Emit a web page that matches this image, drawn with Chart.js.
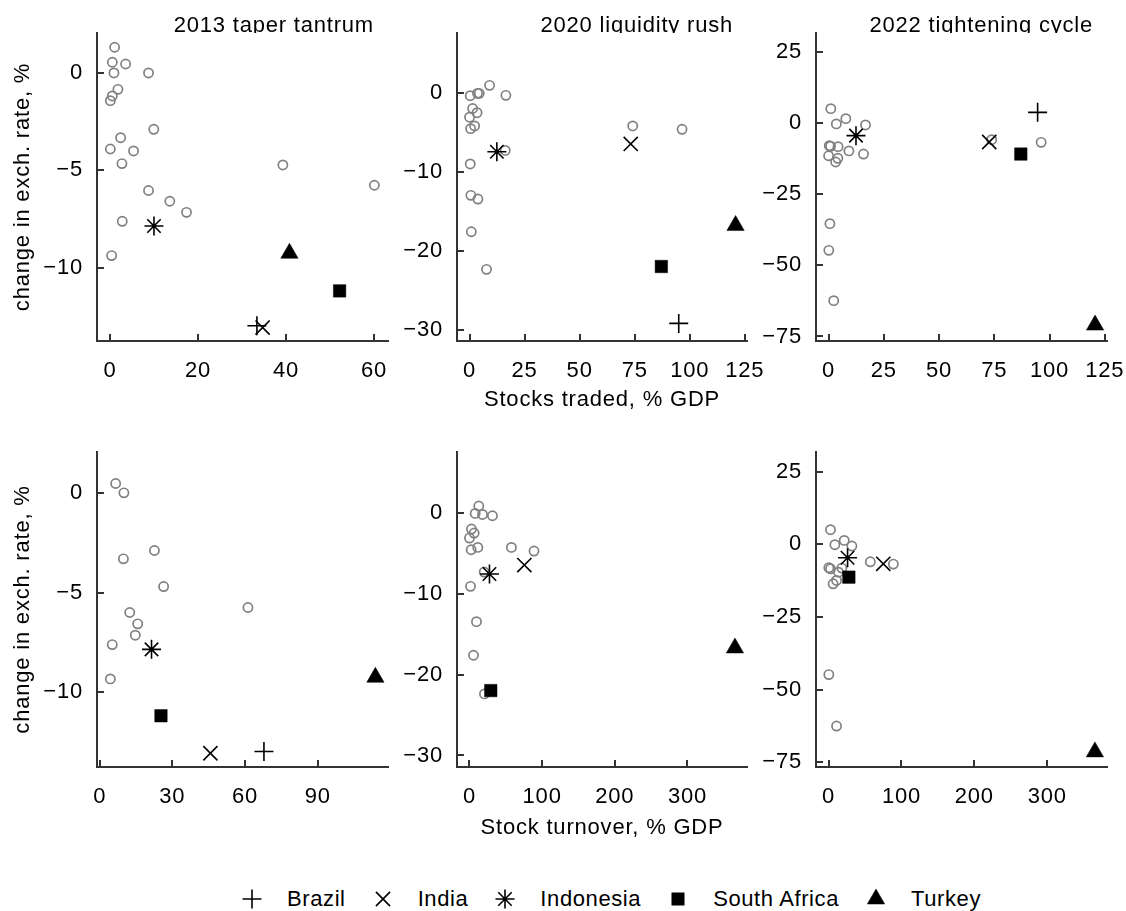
<!DOCTYPE html>
<html>
<head>
<meta charset="utf-8">
<script src="https://cdn.jsdelivr.net/npm/chart.js@4.4.1/dist/chart.umd.min.js"></script>
<style>
html,body{margin:0;padding:0;background:#fff;}
body{width:1126px;height:911px;position:relative;overflow:hidden;font-family:"Liberation Sans",Arial,Helvetica,sans-serif;}
canvas.panel{position:absolute;}
#legend{position:absolute;left:0;top:884px;width:1126px;height:30px;box-sizing:border-box;padding-left:228px;display:flex;justify-content:flex-start;align-items:center;font-size:22px;letter-spacing:0.6px;color:#000;}
.item{display:flex;align-items:center;margin:0 13px;white-space:nowrap;}
.item canvas{margin-right:24px;display:block;}
</style>
</head>
<body>
<div id="legend"></div>
<script>
// ---------- text ----------
const countries = ['Brazil', 'India', 'Indonesia', 'South Africa', 'Turkey'];
const episodes = ['2013 taper tantrum', '2020 liquidity rush', '2022 tightening cycle'];
const xAxisTitles = ['Stocks traded, % GDP', 'Stock turnover, % GDP'];
const yAxisTitle = 'change in exch. rate, %';

// ---------- data: highlighted countries (order as in `countries`) ----------
// top row: stocks traded, % GDP
const traded2013X = [33.4, 34.7, 10.0, 52.2, 40.8];
const traded2013Y = [-12.97, -13.06, -7.85, -11.18, -9.25];
const traded2020X = [95.0, 73.2, 12.4, 87.1, 120.8];
const traded2020Y = [-29.2, -6.49, -7.47, -22.0, -16.8];
const traded2022X = [94.6, 72.7, 12.4, 87.0, 120.6];
const traded2022Y = [3.87, -6.56, -4.33, -10.8, -71.0];
// bottom row: stock turnover, % GDP
const turnover2013X = [67.8, 45.7, 21.4, 25.3, 113.8];
const turnover2013Y = [-12.97, -13.06, -7.85, -11.18, -9.25];
const turnover2020X = [null, 75.5, 27.5, 29.3, 365.4];
const turnover2020Y = [null, -6.43, -7.54, -21.97, -16.7];
const turnover2022X = [null, 75.1, 26.1, 27.9, 365.4];
const turnover2022Y = [null, -6.67, -4.6, -11.27, -71.4];

// ---------- data: other emerging markets (grey circles) ----------
const othersTraded2013X = [1.06, 0.53, 3.55, 0.9, 8.76, 1.81, 0.53, 0.08, 9.96, 2.42, 0.08, 5.36, 2.72, 39.3, 60.1, 8.76, 13.6, 17.4, 2.79, 0.38];
const othersTraded2013Y = [1.32, 0.55, 0.46, 0, 0, -0.84, -1.18, -1.42, -2.89, -3.32, -3.9, -4.0, -4.65, -4.72, -5.76, -6.03, -6.58, -7.15, -7.61, -9.37];
const othersTraded2020X = [9.1, 0.3, 3.6, 4.4, 16.5, 1.4, 3.4, 0, 2.3, 0.5, 74.1, 96.5, 16.2, 0.3, 0.6, 3.8, 0.8, 7.7];
const othersTraded2020Y = [0.93, -0.38, -0.08, -0.08, -0.33, -2.0, -2.53, -3.1, -4.2, -4.55, -4.2, -4.63, -7.3, -9.02, -12.99, -13.46, -17.6, -22.36];
const othersTraded2022X = [1.0, 7.8, 3.5, 16.7, 0.3, 0.9, 4.3, 9.2, 15.8, 0, 4.2, 3.2, 73.8, 96.2, 0.6, 0.1, 2.3];
const othersTraded2022Y = [5.18, 1.65, -0.2, -0.56, -7.85, -8.1, -8.2, -9.7, -10.8, -11.4, -12.3, -13.6, -5.74, -6.69, -35.3, -44.7, -62.4];
const othersTurnover2013X = [6.6, 10.0, 22.6, 9.8, 26.4, 61.2, 12.4, 15.7, 14.7, 5.2, 4.4];
const othersTurnover2013Y = [0.47, 0, -2.89, -3.31, -4.7, -5.75, -6.0, -6.57, -7.14, -7.61, -9.33];
const othersTurnover2020X = [12.8, 7.8, 17.9, 31.6, 2.7, 6.4, 0, 11.4, 2.3, 57.7, 88.8, 20.2, 1.4, 9.6, 5.5, 20.6];
const othersTurnover2020Y = [0.87, -0.04, -0.17, -0.33, -1.98, -2.47, -3.09, -4.25, -4.54, -4.25, -4.7, -7.3, -9.07, -13.44, -17.6, -22.38];
const othersTurnover2022X = [2.7, 21.5, 8.7, 32, 57.3, 88.9, 0.4, 2.7, 18.3, 13.7, 11, 6.3, 0.4, 11];
const othersTurnover2022Y = [5.06, 1.38, -0.1, -0.57, -5.98, -6.78, -8.0, -8.4, -8.16, -9.54, -12.4, -13.56, -44.8, -62.5];

// ---------- tick labels ----------
const xTicksTraded2013 = [0, 20, 40, 60];
const xTicksTraded = [0, 25, 50, 75, 100, 125];
const xTicksTurnover2013 = [0, 30, 60, 90];
const xTicksTurnover = [0, 100, 200, 300];
const yTicks2013 = [0, -5, -10];
const yTicks2020 = [0, -10, -20, -30];
const yTicks2022 = [25, 0, -25, -50, -75];

// ---------- layout / styling (not data) ----------
const FONT = '"Liberation Sans", Arial, Helvetica, sans-serif';
Chart.defaults.font.family = FONT;
Chart.defaults.font.size = 22;
Chart.defaults.color = '#000';

const markerStyles = [
  {pointStyle: 'cross', radius: 9.5, bw: 1.6},
  {pointStyle: 'crossRot', radius: 10, bw: 1.6},
  {pointStyle: 'star', radius: 9.5, bw: 1.6},
  {pointStyle: 'rect', radius: 8.8, bw: 0.5},
  {pointStyle: 'triangle', radius: 10, bw: 0.5}
];
const AXIS_COLOR = '#333333';
const GREY = '#808080';

const colLeft = [97, 457, 816], colRight = [388, 747, 1107];
const rowTop = [33, 452], rowBottom = [341, 767];
const yWidth = 97, xHeight = 75, padRight = 20;

const panels = [
  {r:0, c:0, fx:traded2013X, fy:traded2013Y, ox:othersTraded2013X, oy:othersTraded2013Y, xt:xTicksTraded2013, yt:yTicks2013, xmin:-2.95, xmax:63.2, ymin:-13.75, ymax:2.05},
  {r:0, c:1, fx:traded2020X, fy:traded2020Y, ox:othersTraded2020X, oy:othersTraded2020Y, xt:xTicksTraded, yt:yTicks2020, xmin:-5.7, xmax:126, ymin:-31.43, ymax:7.56},
  {r:0, c:2, fx:traded2022X, fy:traded2022Y, ox:othersTraded2022X, oy:othersTraded2022Y, xt:xTicksTraded, yt:yTicks2022, xmin:-5.7, xmax:126, ymin:-76.6, ymax:31.8},
  {r:1, c:0, fx:turnover2013X, fy:turnover2013Y, ox:othersTurnover2013X, oy:othersTurnover2013Y, xt:xTicksTurnover2013, yt:yTicks2013, xmin:-1.1, xmax:119, ymin:-13.75, ymax:2.05},
  {r:1, c:1, fx:turnover2020X, fy:turnover2020Y, ox:othersTurnover2020X, oy:othersTurnover2020Y, xt:xTicksTurnover, yt:yTicks2020, xmin:-17.2, xmax:382, ymin:-31.43, ymax:7.56},
  {r:1, c:2, fx:turnover2022X, fy:turnover2022Y, ox:othersTurnover2022X, oy:othersTurnover2022Y, xt:xTicksTurnover, yt:yTicks2022, xmin:-17.2, xmax:382, ymin:-76.6, ymax:31.8}
];

const fmt = v => (v < 0 ? '\u2212' + Math.abs(v) : String(v));

// letter spacing to match the reference's text widths
const spacingPlugin = {
  id: 'spacing',
  beforeDraw(chart) { try { chart.ctx.letterSpacing = '0.8px'; } catch (e) {} }
};
// inward tick marks
const inwardTicks = {
  id: 'inwardTicks',
  beforeDatasetsDraw(chart) {
    const {ctx, chartArea: a, scales: {x, y}} = chart;
    ctx.save();
    ctx.strokeStyle = AXIS_COLOR; ctx.lineWidth = 2; ctx.lineCap = 'butt';
    ctx.beginPath();
    x.ticks.forEach(t => { const p = Math.round(x.getPixelForValue(t.value)); ctx.moveTo(p, a.bottom); ctx.lineTo(p, a.bottom - 7); });
    y.ticks.forEach(t => { const p = Math.round(y.getPixelForValue(t.value)); ctx.moveTo(a.left, p); ctx.lineTo(a.left + 7, p); });
    ctx.stroke();
    ctx.restore();
  }
};
// panel title, clipped at the top of the plotting region
const panelTitle = {
  id: 'panelTitle',
  afterDraw(chart, args, opts) {
    if (!opts || !opts.text) return;
    const {ctx, chartArea: a} = chart;
    ctx.save();
    ctx.beginPath(); ctx.rect(0, 0, chart.width, a.top); ctx.clip();
    ctx.font = '22px ' + FONT;
    ctx.fillStyle = '#000'; ctx.textAlign = 'right'; ctx.textBaseline = 'alphabetic';
    ctx.fillText(opts.text, a.right - 14, a.top - 1);
    ctx.restore();
  }
};
Chart.register(spacingPlugin, inwardTicks, panelTitle);

panels.forEach(p => {
  const cv = document.createElement('canvas');
  cv.className = 'panel';
  const left = colLeft[p.c] - yWidth;
  const top = rowTop[p.r] - 33;
  const w = colRight[p.c] + padRight - left;
  const h = rowBottom[p.r] + xHeight - top;
  cv.width = w; cv.height = h;
  cv.style.left = left + 'px'; cv.style.top = top + 'px';
  cv.style.width = w + 'px'; cv.style.height = h + 'px';
  document.body.appendChild(cv);

  const datasets = [];
  countries.forEach((name, i) => {
    if (p.fx[i] == null) return;
    const m = markerStyles[i];
    datasets.push({
      label: name,
      data: [{x: p.fx[i], y: p.fy[i]}],
      pointStyle: m.pointStyle, pointRadius: m.radius, pointHoverRadius: m.radius,
      borderWidth: m.bw, borderColor: '#000', backgroundColor: '#000',
      order: 0, clip: false
    });
  });
  datasets.push({
    label: 'Other EMs',
    data: p.ox.map((x, i) => ({x, y: p.oy[i]})),
    pointStyle: 'circle', pointRadius: 4.6, pointHoverRadius: 4.6,
    borderWidth: 1.7, borderColor: GREY, backgroundColor: 'rgba(0,0,0,0)',
    order: 1, clip: false
  });

  const xTitleShow = p.c === 1;
  const yTitleShow = p.c === 0;
  new Chart(cv, {
    type: 'scatter',
    data: {datasets},
    options: {
      responsive: false, animation: false, events: [],
      layout: {padding: {top: 33, right: padRight, left: 0, bottom: 0}},
      plugins: {
        legend: {display: false}, tooltip: {enabled: false},
        panelTitle: {text: p.r === 0 ? episodes[p.c] : ''}
      },
      scales: {
        x: {
          type: 'linear', position: 'bottom', min: p.xmin, max: p.xmax,
          afterBuildTicks: s => { s.ticks = p.xt.map(v => ({value: v})); },
          afterFit: s => { s.height = xHeight; s.paddingLeft = 0; s.paddingRight = 0; },
          grid: {display: false, drawTicks: false},
          border: {display: true, color: AXIS_COLOR, width: 2},
          ticks: {padding: 17, callback: fmt, maxRotation: 0, minRotation: 0, autoSkip: false, color: '#000', font: {size: 22}},
          title: {display: xTitleShow, text: xAxisTitles[p.r], color: '#000', font: {size: 22}, padding: {top: 0, bottom: p.r === 0 ? 3 : 1}}
        },
        y: {
          type: 'linear', position: 'left', min: p.ymin, max: p.ymax,
          afterBuildTicks: s => { s.ticks = p.yt.map(v => ({value: v})); },
          afterFit: s => { s.width = yWidth; s.paddingTop = 0; s.paddingBottom = 0; },
          grid: {display: false, drawTicks: false},
          border: {display: true, color: AXIS_COLOR, width: 2},
          ticks: {padding: 14, callback: fmt, autoSkip: false, color: '#000', font: {size: 22}},
          title: {display: yTitleShow, text: yAxisTitle, color: '#000', font: {size: 22}, padding: {top: 10, bottom: 0}}
        }
      }
    }
  });
});

// ---------- legend ----------
const legend = document.getElementById('legend');
countries.forEach((name, i) => {
  const item = document.createElement('div');
  item.className = 'item';
  const mc = document.createElement('canvas');
  mc.width = 22; mc.height = 22;
  mc.style.width = '22px'; mc.style.height = '22px';
  const ctx = mc.getContext('2d');
  const m = markerStyles[i];
  ctx.fillStyle = '#000'; ctx.strokeStyle = '#000'; ctx.lineWidth = m.bw;
  if (Chart.helpers && Chart.helpers.drawPoint) {
    Chart.helpers.drawPoint(ctx, {pointStyle: m.pointStyle, radius: m.radius, borderWidth: m.bw, rotation: 0}, 11, 11);
  }
  const span = document.createElement('span');
  span.textContent = name;
  item.appendChild(mc); item.appendChild(span);
  legend.appendChild(item);
});
</script>
</body>
</html>
